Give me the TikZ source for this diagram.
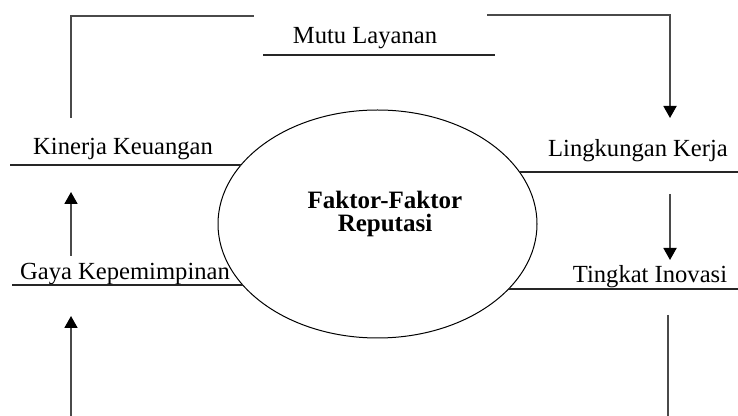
\documentclass[tikz,border=0pt]{standalone}
\usepackage{fontspec}
\setmainfont{Liberation Serif}
\usepackage{tikz}
\usetikzlibrary{arrows.meta,shapes.geometric}
\definecolor{linegray}{HTML}{4A4A4A}

\begin{document}
\begin{tikzpicture}[x=0.5pt,y=-0.5pt,
    factor/.style={inner sep=0pt,anchor=base,font=\fontsize{12.3}{14}\selectfont},
    uline/.style={black!85,line width=0.6pt},
    flow/.style={linegray,line width=0.9pt},
    flowarr/.style={flow,-{Triangle[width=6.5pt,length=6pt,color=black]}}]
    \useasboundingbox (0,0) rectangle (738,416);
    % centre
    \node[draw,ellipse,line width=0.5pt,inner sep=0pt,
          minimum width=159.5pt,minimum height=114pt] (faktor) at (377.5,224) {};
    \node[inner sep=0pt,align=center,font=\fontsize{12.5}{11.5}\bfseries\selectfont,anchor=base]
          (faktortext) at (385,232) {Faktor-Faktor\\Reputasi};
    % factors
    \node[factor] (mutu) at (365,44) {Mutu Layanan};
    \node[factor] (lingkungan) at (638,157) {Lingkungan Kerja};
    \node[factor] (inovasi) at (650,283) {Tingkat Inovasi};
    \node[factor] (gaya) at (125,280) {Gaya Kepemimpinan};
    \node[factor] (kinerja) at (123,155) {Kinerja Keuangan};
    % underlines
    \draw[uline] (263,55) -- (495,55);
    \draw[uline] (10,165) -- (241,165);
    \draw[uline] (12,285) -- (242.8,285);
    \draw[uline] (519.4,172) -- (738,172);
    \draw[uline] (508.5,289) -- (738,289);
    % ends of the flow
    \coordinate (kinerja-top) at (71,118);
    \coordinate (kinerja-bot) at (71,192);
    \coordinate (gaya-top) at (71,256);
    \coordinate (gaya-bot) at (71,316);
    \coordinate (mutu-left) at (254,16);
    \coordinate (mutu-right) at (487,15);
    \coordinate (lingkungan-top) at (670,118);
    \coordinate (lingkungan-bot) at (670,194);
    \coordinate (inovasi-top) at (670,260);
    \coordinate (inovasi-bot) at (668,315);
    \draw[flow] (kinerja-top) |- (mutu-left);
    \draw[flowarr] (mutu-right) -| (lingkungan-top);
    \draw[flowarr] (lingkungan-bot) -- (inovasi-top);
    \draw[flow] (inovasi-bot) -- (668,416);
    \draw[flowarr] (gaya-top) -- (kinerja-bot);
    \draw[flowarr] (71,416) -- (gaya-bot);
\end{tikzpicture}
\end{document}
